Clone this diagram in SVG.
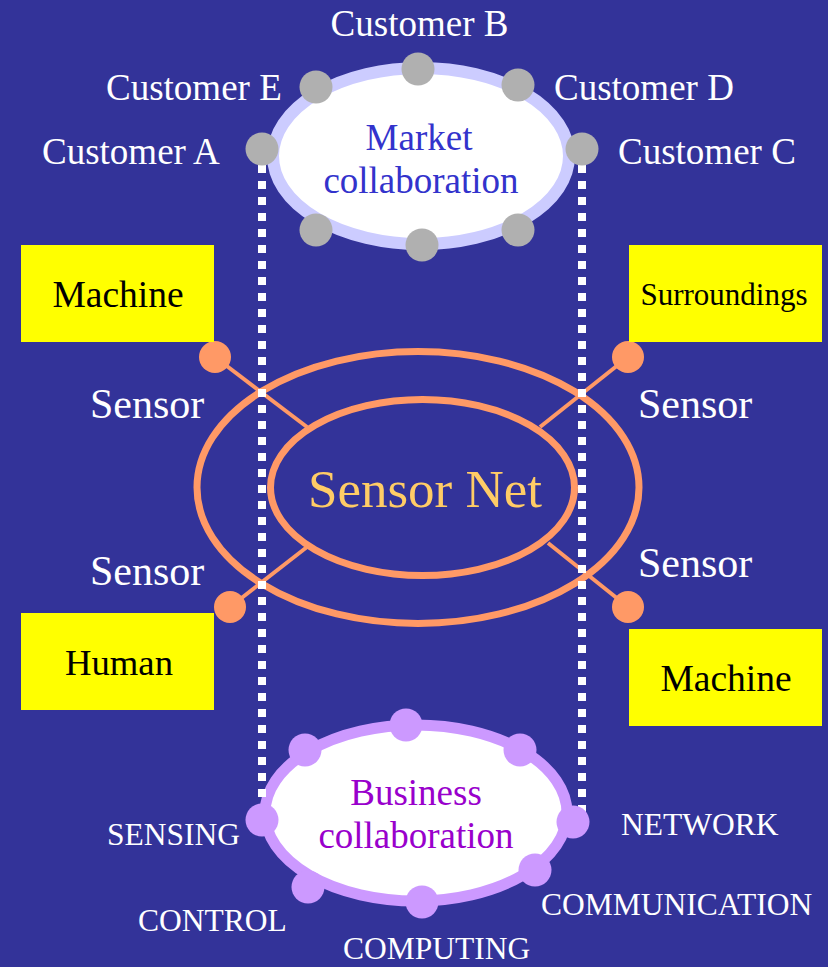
<svg xmlns="http://www.w3.org/2000/svg" width="828" height="967" viewBox="0 0 828 967">
<style>
text{font-family:"Liberation Serif","Times New Roman","DejaVu Serif",serif}
.cust{font-size:37px;fill:#ffffff}
.sens{font-size:42px;fill:#ffffff}
.cap{font-size:31.5px;fill:#ffffff}
.box{fill:#ffff00}
.boxt{font-size:37.5px;fill:#000000}
.gdot{fill:#b0b0b0}
.pdot{fill:#cc99ff}
.odot{fill:#ff9966}
.oline{stroke:#ff9966;stroke-width:4;fill:none}
.oring{stroke:#ff9966;stroke-width:7;fill:none}
.dash{stroke:#ffffff;stroke-width:8;stroke-dasharray:8 8;fill:none}
</style>
<rect x="0" y="0" width="828" height="967" fill="#333399"/>

<g id="sensor-net">
<line class="oline" x1="215" y1="357" x2="307" y2="427"/>
<line class="oline" x1="628" y1="357" x2="540" y2="427"/>
<line class="oline" x1="230" y1="607" x2="307" y2="547"/>
<line class="oline" x1="628" y1="607" x2="548" y2="543"/>
<ellipse class="oring" cx="418" cy="487.5" rx="221" ry="136"/>
<ellipse class="oring" cx="422.5" cy="487.5" rx="152" ry="88"/>
<text x="425" y="507" font-size="53" fill="#ffcc66" text-anchor="middle">Sensor Net</text>
</g>

<g id="market">
<ellipse cx="421" cy="156" rx="148" ry="88" fill="#ffffff" stroke="#ccccff" stroke-width="12"/>
<text x="419" y="150" font-size="37" fill="#3333cc" text-anchor="middle">Market</text>
<text x="421" y="193" font-size="37" fill="#3333cc" text-anchor="middle">collaboration</text>
</g>

<g id="business">
<ellipse cx="416" cy="813" rx="151" ry="88" fill="#ffffff" stroke="#cc99ff" stroke-width="11"/>
<text x="416" y="805" font-size="37" fill="#9900cc" text-anchor="middle">Business</text>
<text x="416" y="848" font-size="37" fill="#9900cc" text-anchor="middle">collaboration</text>
</g>

<g id="connectors">
<line class="dash" x1="262" y1="149" x2="262" y2="815"/>
<line class="dash" x1="582" y1="149" x2="582" y2="815"/>
</g>

<g id="market-dots">
<circle class="gdot" cx="316" cy="87" r="16.5"/>
<circle class="gdot" cx="418" cy="69" r="16.5"/>
<circle class="gdot" cx="518" cy="85" r="16.5"/>
<circle class="gdot" cx="262" cy="149" r="16.5"/>
<circle class="gdot" cx="582" cy="149" r="16.5"/>
<circle class="gdot" cx="316" cy="230" r="16.5"/>
<circle class="gdot" cx="422" cy="245" r="16.5"/>
<circle class="gdot" cx="518" cy="230" r="16.5"/>
</g>

<g id="business-dots">
<circle class="pdot" cx="406" cy="725" r="16.5"/>
<circle class="pdot" cx="305" cy="750" r="16.5"/>
<circle class="pdot" cx="520" cy="750" r="16.5"/>
<circle class="pdot" cx="262" cy="820" r="16.5"/>
<circle class="pdot" cx="573" cy="822" r="16.5"/>
<circle class="pdot" cx="308" cy="887" r="16.5"/>
<circle class="pdot" cx="422" cy="902" r="16.5"/>
<circle class="pdot" cx="535" cy="870" r="16.5"/>
</g>

<g id="sensor-dots">
<circle class="odot" cx="215" cy="357" r="16"/>
<circle class="odot" cx="628" cy="357" r="16"/>
<circle class="odot" cx="230" cy="607" r="16"/>
<circle class="odot" cx="628" cy="607" r="16"/>
</g>

<g id="customers">
<text class="cust" x="419.5" y="36" text-anchor="middle">Customer B</text>
<text class="cust" x="106" y="100">Customer E</text>
<text class="cust" x="554" y="100">Customer D</text>
<text class="cust" x="42" y="164">Customer A</text>
<text class="cust" x="618" y="164">Customer C</text>
</g>

<g id="sensor-labels">
<text class="sens" x="90" y="418">Sensor</text>
<text class="sens" x="638" y="418">Sensor</text>
<text class="sens" x="90" y="585">Sensor</text>
<text class="sens" x="638" y="577">Sensor</text>
</g>

<g id="box-machine-left">
<rect class="box" x="21" y="245" width="193" height="97"/>
<text class="boxt" x="118" y="307" text-anchor="middle">Machine</text>
</g>
<g id="box-surroundings">
<rect class="box" x="629" y="245" width="193" height="97"/>
<text x="724" y="305" font-size="31" fill="#000000" text-anchor="middle">Surroundings</text>
</g>
<g id="box-human">
<rect class="box" x="21" y="613" width="193" height="97"/>
<text x="119" y="675" font-size="36.7" fill="#000000" text-anchor="middle">Human</text>
</g>
<g id="box-machine-right">
<rect class="box" x="629" y="629" width="193" height="97"/>
<text class="boxt" x="726" y="691" text-anchor="middle">Machine</text>
</g>

<g id="business-labels">
<text class="cap" x="107" y="845">SENSING</text>
<text class="cap" x="621" y="835">NETWORK</text>
<text class="cap" x="541" y="915">COMMUNICATION</text>
<text class="cap" x="138" y="931">CONTROL</text>
<text class="cap" x="343" y="959">COMPUTING</text>
</g>
</svg>
